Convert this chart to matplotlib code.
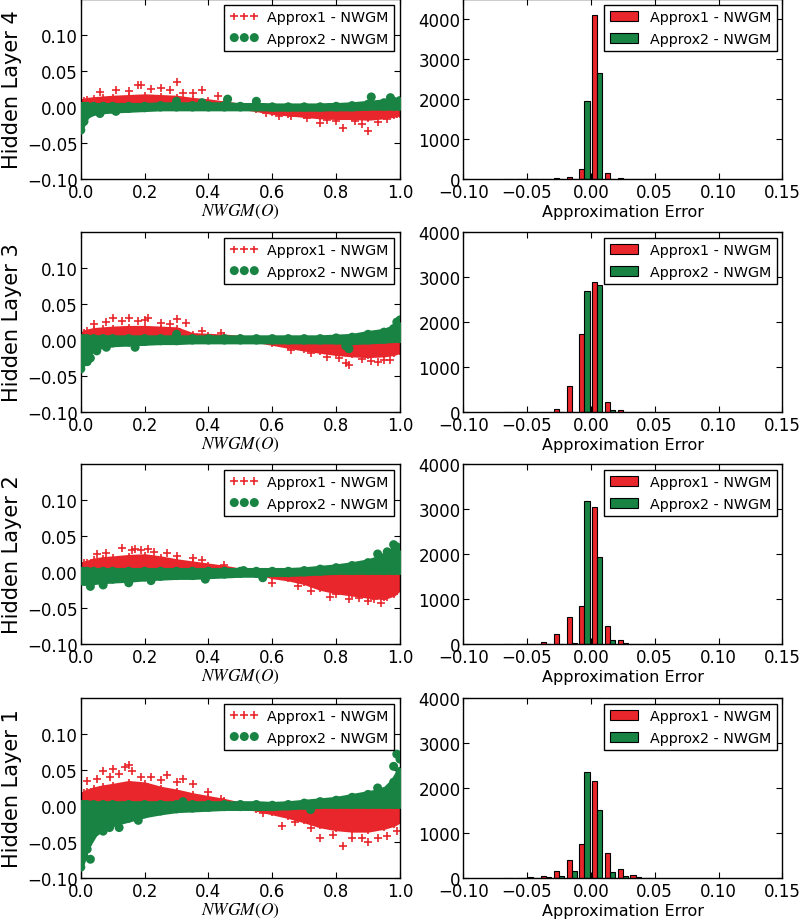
import numpy as np
import matplotlib
matplotlib.use("Agg")
import matplotlib.pyplot as plt

# colours
RED = "#e8262b"
GREEN = "#188343"

# common x grid for the point clouds (NWGM(O))
band_x = [0.0, 0.01, 0.02, 0.04, 0.07, 0.1, 0.15, 0.2, 0.25, 0.3, 0.35, 0.4, 0.45,
          0.5, 0.55, 0.6, 0.65, 0.7, 0.75, 0.8, 0.85, 0.9, 0.95, 0.98, 1.0]

# ---- Hidden Layer 4 ----
l4_red_hi = [0.008, 0.009, 0.010, 0.011, 0.012, 0.013, 0.014, 0.015, 0.014, 0.013, 0.010, 0.008, 0.005,
             0.002, 0.0, -0.003, -0.004, -0.004, -0.004, -0.004, -0.004, -0.004, -0.004, -0.004, -0.004]
l4_red_lo = [0.0, 0.0, 0.0, 0.0, 0.0, 0.0, 0.0, 0.0, 0.0, 0.0, 0.0, 0.0, 0.0,
             0.0, -0.003, -0.007, -0.009, -0.011, -0.013, -0.014, -0.014, -0.015, -0.013, -0.011, -0.009]
l4_green_hi = [0.001, 0.001, 0.001, 0.001, 0.001, 0.001, 0.001, 0.001, 0.002, 0.002, 0.002, 0.002, 0.002,
               0.001, 0.001, 0.0, 0.0, 0.0, 0.0, 0.001, 0.002, 0.004, 0.006, 0.008, 0.009]
l4_green_lo = [-0.025, -0.015, -0.010, -0.006, -0.004, -0.003, -0.002, -0.001, 0.0, 0.0, 0.0, 0.0, 0.0,
               0.0, 0.0, 0.0, 0.0, 0.0, 0.0, 0.0, 0.0, 0.001, 0.001, 0.001, 0.001]
l4_red_ox = [0.06, 0.11, 0.15, 0.18, 0.19, 0.22, 0.25, 0.28, 0.3, 0.32, 0.35, 0.38, 0.43,
             0.58, 0.62, 0.66, 0.71, 0.75, 0.77, 0.8, 0.82, 0.86, 0.88, 0.9, 0.93, 0.96, 0.99]
l4_red_oy = [0.021, 0.024, 0.022, 0.030, 0.031, 0.025, 0.027, 0.023, 0.035, 0.020, 0.020, 0.023, 0.015,
             -0.008, -0.013, -0.012, -0.015, -0.022, -0.018, -0.020, -0.029, -0.019, -0.024, -0.033, -0.021, -0.017, -0.010]
l4_green_ox = [0.0, 0.01, 0.06, 0.11, 0.3, 0.38, 0.46, 0.55, 0.91, 0.97]
l4_green_oy = [-0.032, -0.020, -0.009, -0.006, 0.008, 0.006, 0.011, 0.008, 0.014, 0.013]

# ---- Hidden Layer 3 ----
l3_red_hi = [0.008, 0.010, 0.012, 0.014, 0.015, 0.016, 0.017, 0.017, 0.016, 0.015, 0.007, 0.006, 0.005,
             0.003, 0.002, 0.0, -0.003, -0.004, -0.004, -0.004, -0.004, -0.004, -0.004, -0.004, -0.004]
l3_red_lo = [0.0, 0.0, 0.0, 0.0, 0.0, 0.0, 0.0, 0.0, 0.0, 0.0, 0.0, 0.0, 0.0,
             0.0, 0.0, -0.004, -0.008, -0.012, -0.015, -0.018, -0.020, -0.021, -0.020, -0.018, -0.015]
l3_green_hi = [0.002, 0.002, 0.002, 0.002, 0.002, 0.002, 0.002, 0.002, 0.002, 0.002, 0.002, 0.002, 0.002,
               0.002, 0.002, 0.002, 0.002, 0.002, 0.002, 0.003, 0.004, 0.008, 0.011, 0.016, 0.020]
l3_green_lo = [-0.035, -0.026, -0.018, -0.010, -0.006, -0.004, -0.003, -0.002, -0.001, -0.001, 0.0, 0.0, 0.0,
               0.0, 0.0, 0.0, 0.0, 0.0, 0.0, 0.0, -0.001, 0.0, 0.001, 0.002, 0.002]
l3_red_ox = [0.04, 0.08, 0.1, 0.13, 0.15, 0.18, 0.2, 0.21, 0.25, 0.28, 0.3, 0.33, 0.38, 0.44,
             0.66, 0.72, 0.77, 0.81, 0.83, 0.84, 0.88, 0.91, 0.93, 0.95, 0.97]
l3_red_oy = [0.022, 0.025, 0.030, 0.027, 0.031, 0.026, 0.028, 0.031, 0.024, 0.022, 0.029, 0.024, 0.012, 0.010,
             -0.014, -0.018, -0.024, -0.025, -0.032, -0.035, -0.026, -0.029, -0.030, -0.027, -0.028]
l3_green_ox = [0.0, 0.02, 0.03, 0.05, 0.08, 0.17, 0.3, 0.83, 0.84, 0.99, 1.0]
l3_green_oy = [-0.040, -0.030, -0.025, -0.015, -0.010, -0.010, 0.008, -0.008, -0.012, 0.025, 0.028]

# ---- Hidden Layer 2 ----
l2_red_hi = [0.010, 0.012, 0.013, 0.016, 0.018, 0.019, 0.021, 0.022, 0.019, 0.015, 0.012, 0.009, 0.006,
             0.002, 0.0, -0.002, -0.003, -0.004, -0.004, -0.004, -0.004, -0.004, -0.004, -0.004, -0.004]
l2_red_lo = [0.0, 0.0, 0.0, 0.0, 0.0, 0.0, 0.0, 0.0, 0.0, 0.0, 0.0, 0.0, 0.0,
             0.0, 0.0, -0.006, -0.009, -0.014, -0.022, -0.027, -0.030, -0.033, -0.035, -0.030, -0.022]
l2_green_hi = [0.001, 0.001, 0.001, 0.001, 0.001, 0.001, 0.001, 0.001, 0.001, 0.001, 0.001, 0.001, 0.001,
               0.001, 0.001, 0.001, 0.001, 0.002, 0.004, 0.006, 0.009, 0.013, 0.020, 0.028, 0.025]
l2_green_lo = [-0.012, -0.013, -0.013, -0.012, -0.011, -0.010, -0.009, -0.007, -0.006, -0.005, -0.005, -0.004, -0.003,
               -0.002, -0.002, -0.001, -0.001, 0.0, 0.001, 0.002, 0.002, 0.002, 0.002, 0.002, 0.002]
l2_red_ox = [0.05, 0.08, 0.13, 0.16, 0.17, 0.19, 0.21, 0.23, 0.27, 0.3, 0.35, 0.38, 0.45,
             0.6, 0.68, 0.72, 0.78, 0.8, 0.84, 0.87, 0.9, 0.92, 0.94, 0.96]
l2_red_oy = [0.025, 0.026, 0.033, 0.030, 0.032, 0.030, 0.032, 0.028, 0.026, 0.022, 0.020, 0.017, 0.010,
             -0.015, -0.020, -0.026, -0.035, -0.030, -0.038, -0.036, -0.040, -0.038, -0.043, -0.035]
l2_green_ox = [0.03, 0.07, 0.15, 0.22, 0.39, 0.51, 0.57, 0.93, 0.96, 0.98, 0.99]
l2_green_oy = [-0.020, -0.018, -0.015, -0.012, -0.010, 0.002, -0.008, 0.025, 0.028, 0.038, 0.035]

# ---- Hidden Layer 1 ----
l1_red_hi = [0.015, 0.018, 0.020, 0.023, 0.026, 0.028, 0.032, 0.030, 0.024, 0.020, 0.015, 0.011, 0.007,
             0.002, -0.001, -0.003, -0.004, -0.004, -0.004, -0.004, -0.004, -0.004, -0.004, -0.004, -0.004]
l1_red_lo = [0.0, 0.0, 0.0, 0.0, 0.0, 0.0, 0.0, 0.0, 0.0, 0.0, 0.0, 0.0, 0.0,
             0.0, -0.004, -0.009, -0.014, -0.020, -0.027, -0.031, -0.033, -0.033, -0.029, -0.025, -0.020]
l1_green_hi = [0.002, 0.002, 0.002, 0.002, 0.002, 0.002, 0.002, 0.002, 0.002, 0.002, 0.002, 0.002, 0.002,
               0.002, 0.002, 0.001, 0.002, 0.004, 0.006, 0.008, 0.012, 0.016, 0.020, 0.033, 0.048]
l1_green_lo = [-0.078, -0.063, -0.053, -0.038, -0.028, -0.023, -0.017, -0.011, -0.007, -0.004, -0.003, -0.002, -0.001,
               -0.001, -0.001, -0.001, 0.0, 0.001, 0.002, 0.002, 0.002, 0.002, 0.002, 0.002, 0.002]
l1_red_ox = [0.02, 0.05, 0.07, 0.09, 0.1, 0.12, 0.14, 0.15, 0.16, 0.19, 0.22, 0.25, 0.27, 0.3, 0.32, 0.35, 0.4, 0.44,
             0.57, 0.63, 0.67, 0.72, 0.75, 0.79, 0.82, 0.85, 0.88, 0.9, 0.93, 0.96, 0.99]
l1_red_oy = [0.035, 0.037, 0.048, 0.040, 0.052, 0.045, 0.054, 0.057, 0.048, 0.040, 0.040, 0.036, 0.043, 0.033, 0.038, 0.030, 0.020, 0.010,
             -0.010, -0.028, -0.022, -0.030, -0.045, -0.040, -0.056, -0.045, -0.044, -0.050, -0.045, -0.042, -0.035]
l1_green_ox = [0.0, 0.01, 0.03, 0.02, 0.07, 0.09, 0.12, 0.18, 0.32, 0.72, 0.93, 0.98, 0.99, 1.0]
l1_green_oy = [-0.085, -0.070, -0.074, -0.060, -0.035, -0.030, -0.030, -0.020, 0.006, -0.005, 0.025, 0.055, 0.072, 0.065]

# histogram bins (left edges) and counts
hist_edges = [-0.07, -0.06, -0.05, -0.04, -0.03, -0.02, -0.01, 0.0, 0.01, 0.02, 0.03, 0.04]
l4_red_counts = [0, 0, 0, 2, 15, 55, 260, 4100, 140, 20, 2, 0]
l4_green_counts = [0, 0, 0, 1, 3, 10, 1950, 2650, 10, 2, 0, 0]
l3_red_counts = [0, 0, 0, 5, 60, 580, 1730, 2900, 230, 40, 5, 0]
l3_green_counts = [0, 0, 0, 2, 5, 10, 2680, 2830, 40, 10, 3, 0]
l2_red_counts = [0, 0, 10, 50, 220, 590, 840, 3050, 400, 80, 10, 0]
l2_green_counts = [0, 0, 2, 5, 5, 20, 3170, 1930, 80, 30, 5, 0]
l1_red_counts = [5, 8, 15, 40, 155, 400, 760, 2150, 550, 200, 65, 10]
l1_green_counts = [2, 5, 10, 20, 50, 160, 2360, 1520, 130, 45, 15, 5]

rows = [
    ("Hidden Layer 4", l4_red_hi, l4_red_lo, l4_green_hi, l4_green_lo, l4_red_ox, l4_red_oy,
     l4_green_ox, l4_green_oy, l4_red_counts, l4_green_counts, 4500),
    ("Hidden Layer 3", l3_red_hi, l3_red_lo, l3_green_hi, l3_green_lo, l3_red_ox, l3_red_oy,
     l3_green_ox, l3_green_oy, l3_red_counts, l3_green_counts, 4000),
    ("Hidden Layer 2", l2_red_hi, l2_red_lo, l2_green_hi, l2_green_lo, l2_red_ox, l2_red_oy,
     l2_green_ox, l2_green_oy, l2_red_counts, l2_green_counts, 4000),
    ("Hidden Layer 1", l1_red_hi, l1_red_lo, l1_green_hi, l1_green_lo, l1_red_ox, l1_red_oy,
     l1_green_ox, l1_green_oy, l1_red_counts, l1_green_counts, 4000),
]

plt.rcParams.update({
    "font.family": "DejaVu Sans",
    "font.size": 12,
    "mathtext.fontset": "stix",
    "xtick.direction": "in",
    "ytick.direction": "in",
    "xtick.top": True,
    "ytick.right": True,
    "xtick.major.size": 4,
    "ytick.major.size": 4,
    "xtick.major.pad": 3,
    "ytick.major.pad": 2,
    "axes.linewidth": 1.0,
    "legend.fancybox": False,
    "legend.edgecolor": "black",
    "legend.framealpha": 1.0,
    "legend.fontsize": 10.3,
})

fig = plt.figure(figsize=(8, 9.2), dpi=100)

bottoms = [0.8043, 0.551, 0.2989, 0.0446]
height = 0.1957
bin_w = 0.01
bar_w = 0.8 * bin_w / 2

for i, row in enumerate(rows):
    (name, r_hi, r_lo, g_hi, g_lo, r_ox, r_oy, g_ox, g_oy, r_cnt, g_cnt, top) = row

    # scatter panel: dense cloud drawn as a band plus the markers on its rim
    ax = fig.add_axes([0.101, bottoms[i], 0.399, height])
    ax.fill_between(band_x, r_lo, r_hi, facecolor=RED, edgecolor=RED, lw=3.5, zorder=2)
    ax.scatter(band_x + band_x + r_ox, r_hi + r_lo + r_oy, marker="+", s=32,
               color=RED, linewidths=1.2, zorder=2, label="Approx1 - NWGM")
    ax.fill_between(band_x, g_lo, g_hi, facecolor=GREEN, edgecolor=GREEN, lw=5.5, zorder=3)
    ax.scatter(band_x + band_x + g_ox, g_hi + g_lo + g_oy, marker="o", s=42,
               color=GREEN, edgecolors="none", zorder=3, label="Approx2 - NWGM")
    ax.set_xlim(0, 1)
    ax.set_ylim(-0.10, 0.15)
    ax.set_yticks([-0.10, -0.05, 0.0, 0.05, 0.10])
    ax.set_yticklabels(["\u22120.10", "\u22120.05", "0.00", "0.05", "0.10"])
    ax.set_xticks([0.0, 0.2, 0.4, 0.6, 0.8, 1.0])
    ax.set_xticklabels(["0.0", "0.2", "0.4", "0.6", "0.8", "1.0"])
    ax.set_xlabel("$NWGM(O)$", fontsize=12.5, labelpad=0.5)
    ax.set_ylabel(name, fontsize=15)
    ax.yaxis.set_label_coords(-0.185, 0.5)
    ax.legend(loc="upper right", scatterpoints=3, scatteryoffsets=[0.5],
              handletextpad=0.6, borderpad=0.4, labelspacing=0.5, borderaxespad=0.4)

    # histogram panel
    hx = fig.add_axes([0.579, bottoms[i], 0.399, height])
    left = np.array(hist_edges)
    hx.bar(left + 0.1 * bin_w, r_cnt, width=bar_w, align="edge", color=RED,
           edgecolor="black", linewidth=0.8, label="Approx1 - NWGM")
    hx.bar(left + 0.1 * bin_w + bar_w, g_cnt, width=bar_w, align="edge", color=GREEN,
           edgecolor="black", linewidth=0.8, label="Approx2 - NWGM")
    hx.set_xlim(-0.10, 0.15)
    hx.set_ylim(0, top)
    hx.set_yticks([0, 1000, 2000, 3000, 4000])
    hx.set_xticks([-0.10, -0.05, 0.0, 0.05, 0.10, 0.15])
    hx.set_xticklabels(["\u22120.10", "\u22120.05", "0.00", "0.05", "0.10", "0.15"])
    hx.set_xlabel("Approximation Error", fontsize=11.5, labelpad=2)
    hx.legend(loc="upper right", handletextpad=0.8, borderpad=0.4, labelspacing=0.5,
              borderaxespad=0.4)

fig.savefig("out.png", dpi=100, facecolor="white")
